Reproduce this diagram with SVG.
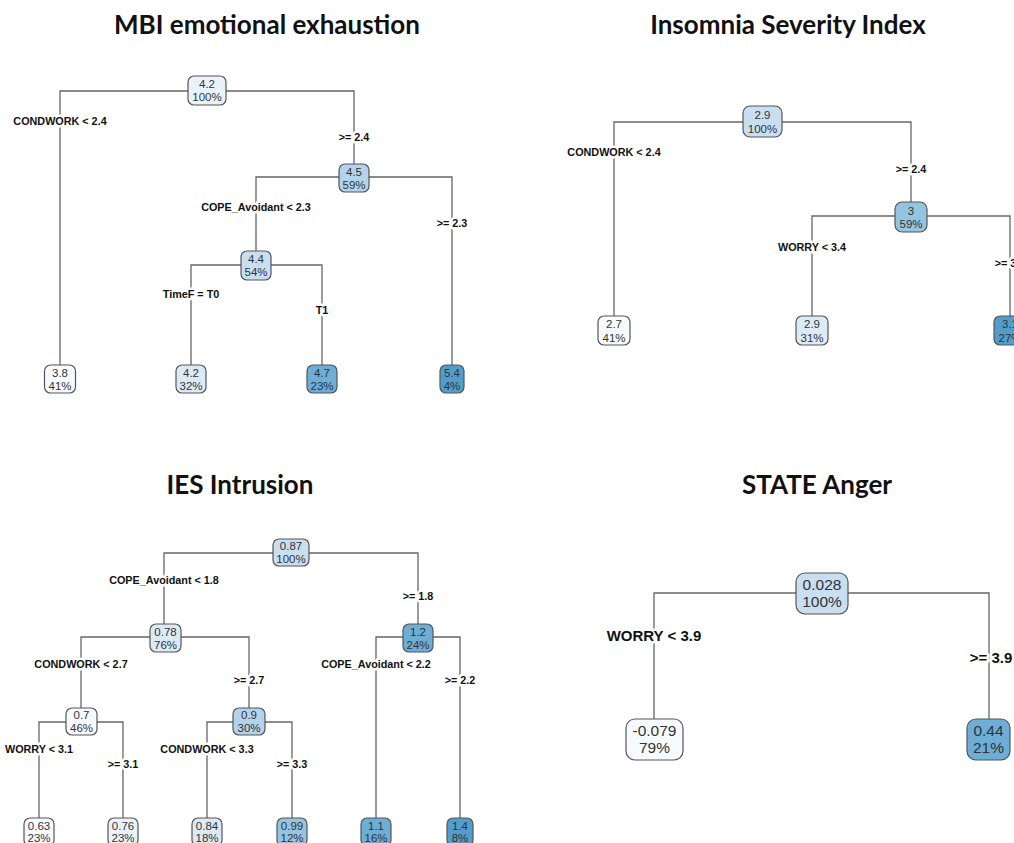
<svg xmlns="http://www.w3.org/2000/svg" width="1014" height="843" viewBox="0 0 1014 843">
<style>
.title{font-family:Lato,"Liberation Sans",sans-serif;font-weight:bold;font-size:26px;fill:#111;text-anchor:middle}
.edge{fill:none;stroke:#666;stroke-width:1.3}
.box{stroke:#555;stroke-width:1.2}
.nt{font-family:"Liberation Sans",Arial,sans-serif;font-size:11.5px;fill:#333;text-anchor:middle}
.lbl{font-family:"Liberation Sans",Arial,sans-serif;font-weight:bold;font-size:10.8px;fill:#111;text-anchor:middle;stroke:#fff;stroke-width:5;paint-order:stroke;stroke-linejoin:round}
.big .nt{font-size:15.5px}
.big .lbl{font-size:15px}
.c0{fill:#f7fbff}.c1{fill:#eaf3fb}.c2{fill:#dceaf6}.c3{fill:#c9def1}.c4{fill:#b2d3ea}.c5{fill:#94c4e0}.c6{fill:#6caed6}.c7{fill:#529dcc}
</style>
<rect width="1014" height="843" fill="#fff"/>

<text class="title" x="267" y="34">MBI emotional exhaustion</text>
<text class="title" x="788" y="34">Insomnia Severity Index</text>
<text class="title" x="240" y="494">IES Intrusion</text>
<text class="title" x="817" y="494">STATE Anger</text>

<g id="connectors">
  <path class="edge" d="M60,365 V91 H354 V164"/>
  <path class="edge" d="M256,251 V177 H452 V365"/>
  <path class="edge" d="M191,365 V265 H322 V365"/>
  <path class="edge" d="M614,316 V122 H911 V202"/>
  <path class="edge" d="M812,316 V216 H1010 V316"/>
  <path class="edge" d="M164,624 V553 H418 V624"/>
  <path class="edge" d="M81,708 V637 H249 V708"/>
  <path class="edge" d="M376,818 V637 H460 V818"/>
  <path class="edge" d="M39,818 V722 H123 V818"/>
  <path class="edge" d="M207,818 V722 H292 V818"/>
  <path class="edge" d="M654,719 V593 H989 V719"/>
</g>

<g id="labels">
  <text class="lbl" x="60" y="125">CONDWORK &lt; 2.4</text>
  <text class="lbl" x="354" y="141">&gt;= 2.4</text>
  <text class="lbl" x="256" y="211">COPE_Avoidant &lt; 2.3</text>
  <text class="lbl" x="452" y="227">&gt;= 2.3</text>
  <text class="lbl" x="191" y="298">TimeF = T0</text>
  <text class="lbl" x="322" y="314">T1</text>

  <text class="lbl" x="614" y="156">CONDWORK &lt; 2.4</text>
  <text class="lbl" x="911" y="173">&gt;= 2.4</text>
  <text class="lbl" x="812" y="251">WORRY &lt; 3.4</text>
  <text class="lbl" x="1010" y="267">&gt;= 3.4</text>

  <text class="lbl" x="164" y="584">COPE_Avoidant &lt; 1.8</text>
  <text class="lbl" x="418" y="600">&gt;= 1.8</text>
  <text class="lbl" x="81" y="668">CONDWORK &lt; 2.7</text>
  <text class="lbl" x="249" y="684">&gt;= 2.7</text>
  <text class="lbl" x="376" y="668">COPE_Avoidant &lt; 2.2</text>
  <text class="lbl" x="460" y="684">&gt;= 2.2</text>
  <text class="lbl" x="39" y="753">WORRY &lt; 3.1</text>
  <text class="lbl" x="123" y="768">&gt;= 3.1</text>
  <text class="lbl" x="207" y="753">CONDWORK &lt; 3.3</text>
  <text class="lbl" x="292" y="768">&gt;= 3.3</text>
</g>
<g class="big" id="labels-anger">
  <text class="lbl" x="654" y="641">WORRY &lt; 3.9</text>
  <text class="lbl" x="991" y="663">&gt;= 3.9</text>
</g>

<!-- MBI -->
<g id="mbi-root"><rect class="box c1" x="188" y="76" width="38" height="29" rx="6"/><text class="nt" x="207" y="88">4.2</text><text class="nt" x="207" y="101">100%</text></g>
<g id="mbi-n2"><rect class="box c4" x="339" y="164" width="30" height="28" rx="6"/><text class="nt" x="354" y="175.5">4.5</text><text class="nt" x="354" y="188.5">59%</text></g>
<g id="mbi-n3"><rect class="box c3" x="241" y="251" width="30" height="29" rx="6"/><text class="nt" x="256" y="263">4.4</text><text class="nt" x="256" y="276">54%</text></g>
<g id="mbi-l1"><rect class="box c0" x="44.5" y="365" width="31" height="28" rx="6"/><text class="nt" x="60" y="376.5">3.8</text><text class="nt" x="60" y="389.5">41%</text></g>
<g id="mbi-l2"><rect class="box c2" x="176" y="365" width="30" height="28" rx="6"/><text class="nt" x="191" y="376.5">4.2</text><text class="nt" x="191" y="389.5">32%</text></g>
<g id="mbi-l3"><rect class="box c6" x="307" y="365" width="30" height="28" rx="6"/><text class="nt" x="322" y="376.5">4.7</text><text class="nt" x="322" y="389.5">23%</text></g>
<g id="mbi-l4"><rect class="box c7" x="440" y="365" width="24" height="28" rx="6"/><text class="nt" x="452" y="376.5">5.4</text><text class="nt" x="452" y="389.5">4%</text></g>

<!-- Insomnia -->
<g id="isi-root"><rect class="box c3" x="743" y="106" width="39" height="31" rx="7"/><text class="nt" x="762.5" y="119">2.9</text><text class="nt" x="762.5" y="132.5">100%</text></g>
<g id="isi-n2"><rect class="box c5" x="895" y="202" width="32" height="30" rx="7"/><text class="nt" x="911" y="214.5">3</text><text class="nt" x="911" y="228">59%</text></g>
<g id="isi-l1"><rect class="box c0" x="598" y="316" width="32" height="29" rx="6"/><text class="nt" x="614" y="328">2.7</text><text class="nt" x="614" y="341.5">41%</text></g>
<g id="isi-l2"><rect class="box c2" x="796" y="316" width="32" height="29" rx="6"/><text class="nt" x="812" y="328">2.9</text><text class="nt" x="812" y="341.5">31%</text></g>
<g id="isi-l3"><rect class="box c7" x="994" y="316" width="32" height="29" rx="6"/><text class="nt" x="1010" y="328">3.1</text><text class="nt" x="1010" y="341.5">27%</text></g>

<!-- IES -->
<g id="ies-root"><rect class="box c3" x="273" y="539" width="36" height="27" rx="6"/><text class="nt" x="291" y="550">0.87</text><text class="nt" x="291" y="563">100%</text></g>
<g id="ies-n2"><rect class="box c2" x="150" y="624" width="31" height="28" rx="6"/><text class="nt" x="165.5" y="635.5">0.78</text><text class="nt" x="165.5" y="648.5">76%</text></g>
<g id="ies-n3"><rect class="box c6" x="403" y="624" width="30" height="28" rx="6"/><text class="nt" x="418" y="635.5">1.2</text><text class="nt" x="418" y="648.5">24%</text></g>
<g id="ies-n4"><rect class="box c0" x="66" y="708" width="31" height="27" rx="6"/><text class="nt" x="81.5" y="719">0.7</text><text class="nt" x="81.5" y="732">46%</text></g>
<g id="ies-n5"><rect class="box c4" x="233" y="708" width="32" height="27" rx="6"/><text class="nt" x="249" y="719">0.9</text><text class="nt" x="249" y="732">30%</text></g>
<g id="ies-l1"><rect class="box c0" x="24" y="818" width="30" height="28" rx="6"/><text class="nt" x="39" y="829.5">0.63</text><text class="nt" x="39" y="842">23%</text></g>
<g id="ies-l2"><rect class="box c1" x="108" y="818" width="30" height="28" rx="6"/><text class="nt" x="123" y="829.5">0.76</text><text class="nt" x="123" y="842">23%</text></g>
<g id="ies-l3"><rect class="box c2" x="192" y="818" width="30" height="28" rx="6"/><text class="nt" x="207" y="829.5">0.84</text><text class="nt" x="207" y="842">18%</text></g>
<g id="ies-l4"><rect class="box c5" x="277" y="818" width="30" height="28" rx="6"/><text class="nt" x="292" y="829.5">0.99</text><text class="nt" x="292" y="842">12%</text></g>
<g id="ies-l5"><rect class="box c6" x="361" y="818" width="30" height="28" rx="6"/><text class="nt" x="376" y="829.5">1.1</text><text class="nt" x="376" y="842">16%</text></g>
<g id="ies-l6"><rect class="box c7" x="447" y="818" width="26" height="28" rx="6"/><text class="nt" x="460" y="829.5">1.4</text><text class="nt" x="460" y="842">8%</text></g>

<!-- STATE Anger -->
<g class="big" id="anger-root"><rect class="box c3" x="796" y="573" width="52" height="41" rx="9"/><text class="nt" x="822" y="590">0.028</text><text class="nt" x="822" y="607">100%</text></g>
<g class="big" id="anger-l1"><rect class="box c0" x="626" y="719" width="57" height="41" rx="9"/><text class="nt" x="654.5" y="736">-0.079</text><text class="nt" x="654.5" y="753">79%</text></g>
<g class="big" id="anger-l2"><rect class="box c6" x="967" y="719" width="43" height="41" rx="9"/><text class="nt" x="988.5" y="736">0.44</text><text class="nt" x="988.5" y="753">21%</text></g>
</svg>
